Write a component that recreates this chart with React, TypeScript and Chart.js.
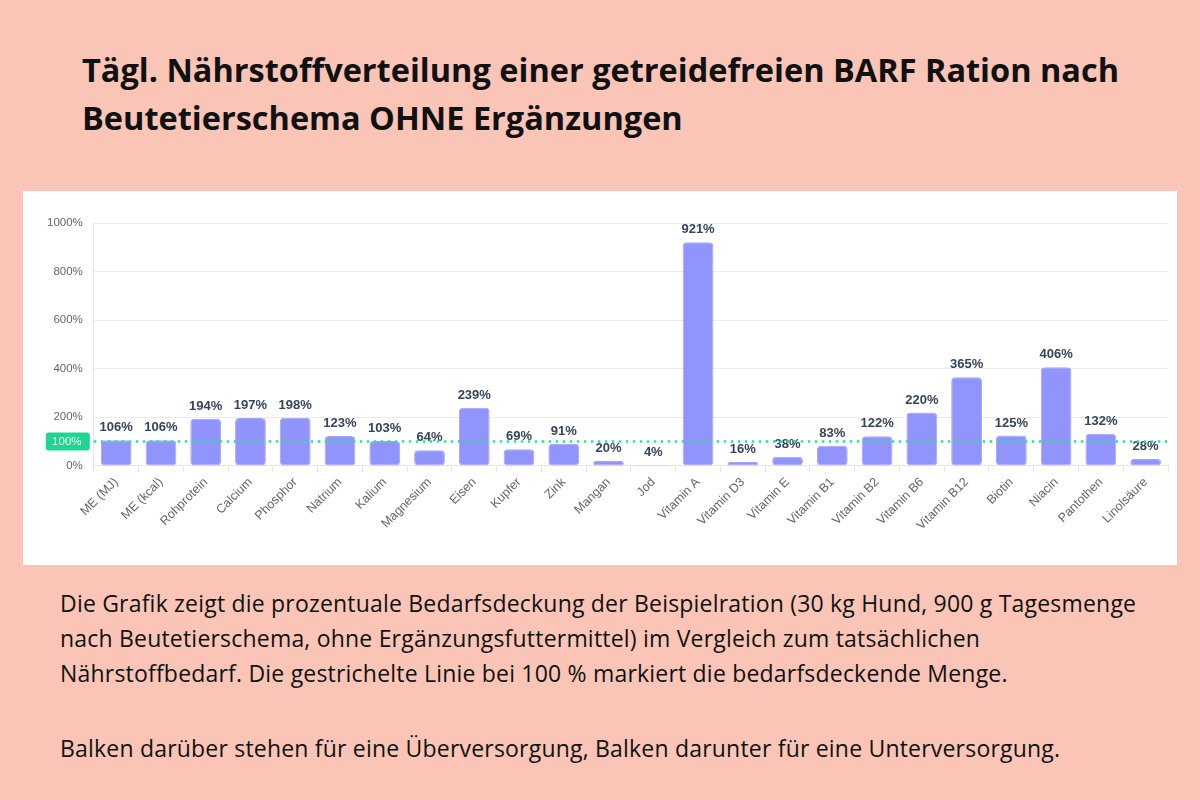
import { useEffect, useRef } from 'react'
import { Chart, registerables, type Plugin } from 'chart.js'

Chart.register(...registerables)

const categories = [
  'ME (MJ)', 'ME (kcal)', 'Rohprotein', 'Calcium', 'Phosphor', 'Natrium', 'Kalium', 'Magnesium',
  'Eisen', 'Kupfer', 'Zink', 'Mangan', 'Jod', 'Vitamin A', 'Vitamin D3', 'Vitamin E',
  'Vitamin B1', 'Vitamin B2', 'Vitamin B6', 'Vitamin B12', 'Biotin', 'Niacin', 'Pantothen', 'Linolsäure',
]
const coverage = [106, 106, 194, 197, 198, 123, 103, 64, 239, 69, 91, 20, 4, 921, 16, 38, 83, 122, 220, 365, 125, 406, 132, 28]
const yTicks = [0, 200, 400, 600, 800, 1000]
const targetLine = 100

const PINK = '#fac5b7'
const BAR = '#9194fc'
const GREEN = '#27e39a'
const CHART_FONT = "'Liberation Sans', Arial, sans-serif"
const TEXT_FONT = "'Open Sans', 'Noto Sans', sans-serif"

/** Value labels above the bars */
const valueLabels: Plugin<'bar'> = {
  id: 'valueLabels',
  afterDatasetsDraw(chart) {
    const ctx = chart.ctx
    const meta = chart.getDatasetMeta(0)
    ctx.save()
    ctx.font = `bold 13px ${CHART_FONT}`
    ctx.fillStyle = '#34455a'
    ctx.textAlign = 'center'
    ctx.textBaseline = 'bottom'
    meta.data.forEach((bar, i) => {
      ctx.fillText(coverage[i] + '%', bar.x, bar.y - 6)
    })
    ctx.restore()
  },
}

/** Dotted 100% line with the green badge on the y axis */
const targetMarker: Plugin<'bar'> = {
  id: 'targetMarker',
  afterDatasetsDraw(chart) {
    const { ctx, chartArea, scales } = chart
    const y = scales.y.getPixelForValue(targetLine)
    ctx.save()
    ctx.strokeStyle = GREEN
    ctx.lineWidth = 2.5
    ctx.setLineDash([2.5, 4.5])
    ctx.beginPath()
    ctx.moveTo(chartArea.left, y)
    ctx.lineTo(chartArea.right, y)
    ctx.stroke()
    ctx.setLineDash([])

    const w = 44
    const h = 18
    const x = chartArea.left - w - 4
    ctx.fillStyle = '#1ed591'
    ctx.beginPath()
    ctx.roundRect(x, y - h / 2, w, h, 3)
    ctx.fill()
    ctx.fillStyle = '#ffffff'
    ctx.font = `11.5px ${CHART_FONT}`
    ctx.textAlign = 'center'
    ctx.textBaseline = 'middle'
    ctx.fillText(targetLine + '%', x + w / 2 - 1, y + 0.5)
    ctx.restore()
  },
}

function CoverageChart() {
  const canvasRef = useRef<HTMLCanvasElement>(null)
  const chartRef = useRef<Chart<'bar'> | null>(null)

  useEffect(() => {
    if (!canvasRef.current) return
    const ctx = canvasRef.current.getContext('2d')
    if (!ctx) return

    chartRef.current = new Chart(ctx, {
      type: 'bar',
      data: {
        labels: categories,
        datasets: [
          {
            data: coverage,
            backgroundColor: BAR,
            borderColor: '#a3a6fd',
            borderWidth: 1,
            borderRadius: 4,
            borderSkipped: false,
            categoryPercentage: 0.8,
            barPercentage: 0.86,
          },
        ],
      },
      options: {
        responsive: true,
        maintainAspectRatio: false,
        animation: false,
        layout: { padding: { top: 32, left: 13, right: 9, bottom: 29 } },
        plugins: {
          legend: { display: false },
          tooltip: { enabled: false },
        },
        scales: {
          x: {
            grid: { drawOnChartArea: false, color: '#e6e6e6', tickLength: 6 },
            border: { color: '#e6e6e6' },
            ticks: {
              color: '#666',
              minRotation: 45,
              maxRotation: 45,
              autoSkip: false,
              font: { family: CHART_FONT, size: 12.5 },
            },
          },
          y: {
            min: 0,
            max: 1000,
            afterBuildTicks: (axis) => {
              axis.ticks = yTicks.map((v) => ({ value: v }))
            },
            grid: { color: '#ebebeb', drawTicks: false },
            border: { color: '#e6e6e6' },
            ticks: {
              color: '#666',
              padding: 11,
              font: { family: CHART_FONT, size: 11.5 },
              callback: (v) => v + '%',
            },
          },
        },
      },
      plugins: [valueLabels, targetMarker],
    })

    return () => {
      chartRef.current?.destroy()
      chartRef.current = null
    }
  }, [])

  return (
    <div style={{ position: 'absolute', left: 23, top: 191, width: 1154, height: 374, background: '#fff' }}>
      <canvas ref={canvasRef} />
    </div>
  )
}

export default function App() {
  const lineStyle = { whiteSpace: 'nowrap' as const }
  return (
    <div
      style={{
        position: 'fixed',
        left: 0,
        top: 0,
        width: 1200,
        height: 800,
        background: PINK,
        color: '#111',
        fontFamily: TEXT_FONT,
        overflow: 'hidden',
      }}
    >
      <div
        style={{
          position: 'absolute',
          left: 82,
          top: 46,
          fontSize: 32.5,
          fontWeight: 700,
          lineHeight: '48px',
        }}
      >
        <div style={lineStyle}>Tägl. Nährstoffverteilung einer getreidefreien BARF Ration nach</div>
        <div style={lineStyle}>Beutetierschema OHNE Ergänzungen</div>
      </div>
      <CoverageChart />
      <div style={{ position: 'absolute', left: 60, top: 586, fontSize: 23, lineHeight: '35px', letterSpacing: 0.2 }}>
        <div style={lineStyle}>
          Die Grafik zeigt die prozentuale Bedarfsdeckung der Beispielration (30 kg Hund, 900 g Tagesmenge
        </div>
        <div style={lineStyle}>
          nach Beutetierschema, ohne Ergänzungsfuttermittel) im Vergleich zum tatsächlichen
        </div>
        <div style={lineStyle}>
          Nährstoffbedarf. Die gestrichelte Linie bei 100 % markiert die bedarfsdeckende Menge.
        </div>
        <div style={{ height: 40 }} />
        <div style={lineStyle}>
          Balken darüber stehen für eine Überversorgung, Balken darunter für eine Unterversorgung.
        </div>
      </div>
    </div>
  )
}
